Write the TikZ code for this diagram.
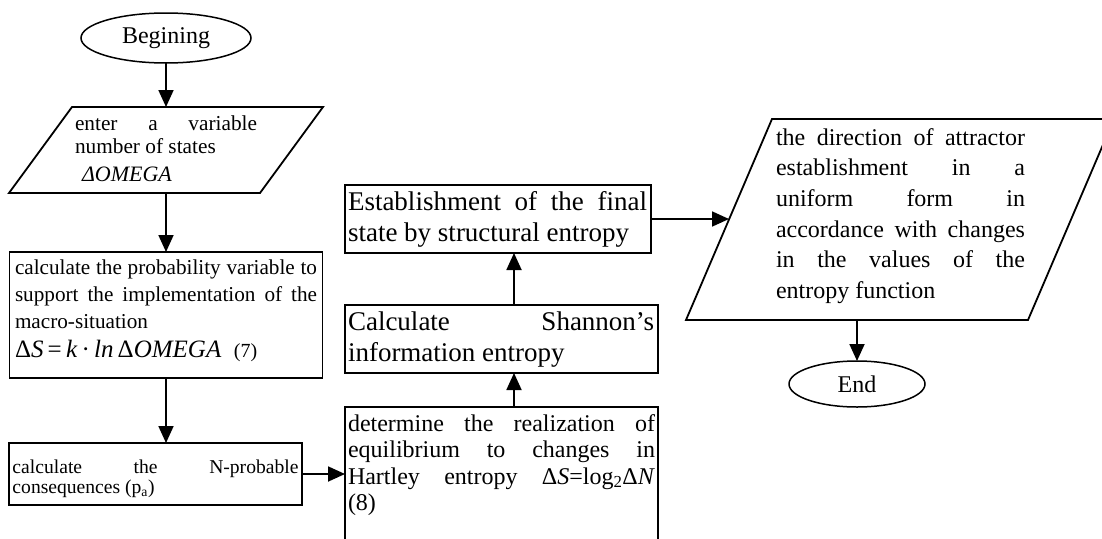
\documentclass[tikz,border=0pt]{standalone}
\usepackage{fontspec}
\setmainfont{Liberation Serif}
\usetikzlibrary{arrows.meta,calc,shapes.geometric}
\newcommand\fs[2]{\fontsize{#1pt}{#2pt}\selectfont}
\newdimen\lnh \newdimen\lnd
\newcommand\lstrut{\vrule height\lnh depth\lnd width0pt\relax}
% a justified line of given width, and a natural line
\newcommand\jl[2]{\hbox to #1pt{\lstrut #2}}
\newcommand\nl[1]{\hbox{\lstrut #1}}
% block of lines: #1 = distance between baselines (pt), #2 = lines
\newcommand\block[2]{\lnh=0.72\dimexpr #1pt\relax \lnd=0.28\dimexpr #1pt\relax
  \vtop{\offinterlineskip #2}}
\begin{document}
\begin{tikzpicture}[x=1pt,y=-1pt,
  shapebox/.style={draw, line width=1.8pt, inner sep=0pt, outer sep=0pt},
  ghost/.style={inner sep=0pt, outer sep=0pt},
  oval/.style={ellipse, draw, line width=1.5pt, inner sep=0pt, outer sep=0pt},
  txt/.style={anchor=base west, inner sep=0pt, outer sep=0pt},
  conn/.style={line width=1.8pt, -{Triangle[length=17pt,width=15pt]}},
  pline/.style={line width=1.8pt, line join=miter},
]
\useasboundingbox (0,0) rectangle (1102,538);

% Begining
\node[oval, minimum width=170pt, minimum height=50pt] (e1) at (166,38) {\fs{24}{28}Begining};

% parallelogram 1
\node[ghost, minimum width=251pt, minimum height=86pt] (p1) at (166,150) {};
\draw[pline] ($(p1.north west)+(31.5,0)$) -- ($(p1.north east)+(31.5,0)$)
  -- ($(p1.south east)+(-31.5,0)$) -- ($(p1.south west)+(-31.5,0)$) -- cycle;
\node[txt] (p1t) at (75,130)
  {\fs{21.3}{24}\block{23.5}{\jl{182}{enter a variable}\nl{number of states}%
   {\advance\lnh by 4pt\fs{22}{27}\nl{\hspace*{7pt}\textit{ΔOMEGA}}}}};

% box 2
\node[shapebox, minimum width=313pt, minimum height=126pt, anchor=north west] (r2) at (9.5,252) {};
\node[txt] (r2t) at (15,274)
  {\fs{21.2}{27}\block{27}{\jl{302}{calculate the probability variable to}%
   \jl{302}{support the implementation of the}\nl{macro-situation}%
   {\advance\lnh by 2pt\fs{25}{29}\nl{Δ\textit{S}\,=\,\textit{k}\,·\,\textit{ln}\,Δ\textit{OMEGA}\ \ {\fs{20}{24}(7)}}}}};

% box 3
\node[shapebox, minimum width=293pt, minimum height=62pt, anchor=north west] (r3) at (9,443) {};
\node[txt] (r3t) at (12.5,473)
  {\fs{19.6}{21}\block{20.5}{\jl{286}{calculate the N-probable}\nl{consequences (p\textsubscript{a})}}};

% box 4
\node[shapebox, minimum width=313pt, minimum height=140pt, anchor=north west] (r4) at (345,407) {};
\node[txt] (r4t) at (348,431)
  {\fs{24}{26.5}\block{26.5}{\jl{307}{determine the realization of}%
   \jl{307}{equilibrium to changes in}%
   \jl{307}{Hartley entropy Δ\textit{S}=log\textsubscript{2}Δ\textit{N}}\nl{(8)}}};

% box 5
\node[shapebox, minimum width=313pt, minimum height=68pt, anchor=north west] (r5) at (345,305) {};
\node[txt] (r5t) at (348,330)
  {\fs{27}{31}\block{31}{\jl{306}{Calculate Shannon’s}\nl{information entropy}}};

% box 6
\node[shapebox, minimum width=306pt, minimum height=68pt, anchor=north west] (r6) at (345,185) {};
\node[txt] (r6t) at (348,210)
  {\fs{27}{31}\block{31}{\jl{299}{Establishment of the final}\nl{state by structural entropy}}};

% parallelogram 2
\node[ghost, minimum width=342pt, minimum height=201pt] (p2) at (900,219.5) {};
\draw[pline] ($(p2.north west)+(43,0)$) -- ($(p2.north east)+(43,0)$)
  -- ($(p2.south east)+(-43,0)$) -- ($(p2.south west)+(-43,0)$) -- cycle;
\coordinate (p2b) at ($(p2.south)+(-43,0)$);
\node[txt] (p2t) at (776,145)
  {\fs{24}{30.7}\block{30.7}{\jl{249}{the direction of attractor}%
   \jl{249}{establishment in a}%
   \jl{249}{uniform form in}%
   \jl{249}{accordance with changes}%
   \jl{249}{in the values of the}%
   \nl{entropy function}}};

% End
\node[oval, minimum width=136pt, minimum height=46pt] (e2) at (857,384) {\fs{24}{28}End};

% connectors
\coordinate (ax) at (514,0);
\draw[conn] (e1.south) -- (p1.north);
\draw[conn] (p1.south) -- (r2.north);
\draw[conn] (r2.south) -- (r2.south |- r3.north);
\draw[conn] (r3.east) -- (r3.east -| r4.west);
\draw[conn] (r4.north -| ax) -- (r5.south -| ax);
\draw[conn] (r5.north -| ax) -- (r6.south -| ax);
\draw[conn] (r6.east) -- (r6.east -| p2.west);
\draw[conn] (p2b) -- (e2.north);
\end{tikzpicture}
\end{document}
